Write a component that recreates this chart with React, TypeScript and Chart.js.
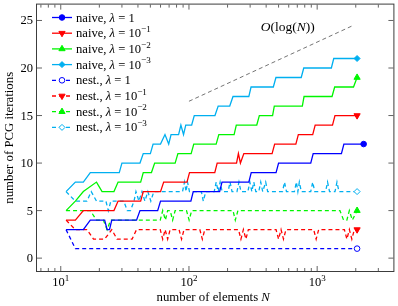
import { useEffect, useRef } from 'react';
import { Chart, registerables } from 'chart.js';

Chart.register(...registerables);

// ---------------- data ----------------
const naiveL1N = [11, 15, 17, 22, 23, 24, 25, 39, 41.5, 57, 60, 103.5, 108, 173.5, 181, 293, 306, 478, 500, 891, 931, 1546, 1616, 2304];
const naiveL1It = [3, 3, 4, 4, 3, 3, 4, 4, 5, 5, 6, 6, 7, 7, 8, 8, 9, 9, 10, 10, 11, 11, 12, 12];

const naiveL01N = [11, 13, 15, 26, 28, 42, 44, 60, 63.5, 96.5, 101, 159, 166, 235, 243, 252, 268, 445, 466, 682, 713, 923, 965, 1317, 1377, 2048];
const naiveL01It = [4, 4, 5, 5, 6, 6, 7, 7, 8, 8, 9, 9, 10, 10, 11, 10, 11, 11, 12, 12, 13, 13, 14, 14, 15, 15];

const naiveL001N = [11, 13, 15, 19, 21, 26, 28, 42, 44, 51, 54, 78, 82, 104, 109, 163, 171, 225, 234, 338, 354, 449, 463, 766, 790, 1306, 1370, 1921, 2048];
const naiveL001It = [5, 6, 7, 8, 7, 7, 8, 8, 9, 9, 10, 10, 11, 11, 12, 12, 13, 13, 14, 14, 15, 15, 16, 16, 17, 17, 18, 18, 19];

const naiveL0001N = [11, 13, 15, 17, 28.6, 30, 41.5, 44, 50, 52.5, 60, 65, 69.5, 72.5, 83, 86.5, 90.7, 94.4, 105, 110, 159.5, 169, 208, 220.6, 293, 305, 455, 477, 751, 786, 1290, 1347, 2048];
const naiveL0001It = [7, 8, 8, 9, 9, 10, 10, 11, 11, 12, 12, 13, 12, 13, 13, 14, 13, 14, 14, 15, 15, 16, 16, 17, 17, 18, 18, 19, 19, 20, 20, 21, 21];

const nestL1N = [11, 13, 2048];
const nestL1It = [3, 1, 1];

const nestL01N = [11, 13, 16, 18, 22, 25, 27.5, 36, 39, 59.7, 62.4, 65.2, 68.2, 71.3, 83.7, 87.5, 91.5, 121.6, 127.1, 132.9, 243.3, 254.3, 265.8, 278, 290.6, 478, 500, 522.6, 546, 571, 939, 982, 1027, 1631, 1705, 1783, 1864, 1949, 2048];
const nestL01It = [4, 3, 3, 2, 2, 3, 2, 2, 3, 3, 2, 3, 2, 3, 3, 2, 3, 3, 2, 3, 3, 2, 3, 2, 3, 3, 2, 3, 2, 3, 3, 2, 3, 3, 2, 3, 2, 3, 3];

const nestL001N = [11, 17, 19, 21.5, 23, 24.5, 59.7, 62.4, 65.5, 68.2, 71.3, 74.6, 78, 95.7, 100.3, 105, 220.6, 229.8, 241, 1505, 1607, 1705, 1782, 1880, 2048];
const nestL001It = [5, 5, 4, 4, 3, 4, 4, 5, 4, 5, 5, 4, 5, 5, 4, 5, 5, 4, 5, 5, 4, 4, 5, 4, 5];

const nestL0001N = [11, 13, 16, 17.3, 19, 22.5, 23.5, 24.6, 31, 33, 35, 37.3, 38.6, 40.7, 43, 45.3, 47.8, 50.4, 53.2, 89.1, 92.3, 94.9, 97.4, 100.9, 124.9, 129.4, 135.3, 157.4, 163.1, 169, 175.1, 181.4, 201.8, 209.2, 216.7, 236.9, 245.5, 254.3, 288.1, 298.5, 309.3, 320.5, 332.1, 350.3, 363, 376.1, 396.7, 411.1, 536.7, 556.2, 576.2, 664.4, 688.4, 707.1, 726.1, 752.4, 891, 923, 956.6, 1163, 1205, 1249, 1377, 1427, 1479, 2048];
const nestL0001It = [7, 6, 6, 7, 6, 6, 5, 6, 6, 5, 5, 6, 7, 6, 7, 6, 7, 6, 7, 7, 8, 7, 8, 7, 7, 6, 7, 7, 8, 7, 8, 7, 7, 8, 7, 7, 8, 7, 7, 8, 7, 8, 7, 7, 8, 7, 8, 7, 7, 8, 7, 7, 8, 7, 8, 7, 7, 8, 7, 7, 8, 7, 7, 8, 7, 7];

const refLineN = [100, 1925];
const refLineIt = [16.5, 24.5];
const refLabelN = 590;

const labels = [
  'naive, λ = 1', 'naive, λ = 10^-1', 'naive, λ = 10^-2', 'naive, λ = 10^-3',
  'nest., λ = 1', 'nest., λ = 10^-1', 'nest., λ = 10^-2', 'nest., λ = 10^-3',
];

const yTicks = [0, 5, 10, 15, 20, 25];
const xMajorTicks = [10, 100, 1000];
const xTickLabels = ['10^1', '10^2', '10^3'];
const xMinorTicks = [7, 8, 9, 20, 30, 40, 50, 60, 70, 80, 90, 200, 300, 400, 500, 600, 700, 800, 900, 2000, 3000];

// ---------------- styles ----------------
const BLUE = 'rgb(0,0,255)';
const RED = 'rgb(255,0,0)';
const GREEN = 'rgb(0,245,0)';
const CYAN = 'rgb(0,175,240)';
const FRAME = 'rgb(60,60,60)';
const SERIF = "'Liberation Serif', 'Times New Roman', serif";

type Style = { color: string; dashed: boolean; marker: string; rot: number; filled: boolean; r: number };
const styles: Style[] = [
  { color: BLUE, dashed: false, marker: 'circle', rot: 0, filled: true, r: 2.8 },
  { color: RED, dashed: false, marker: 'triangle', rot: 180, filled: true, r: 3.6 },
  { color: GREEN, dashed: false, marker: 'triangle', rot: 0, filled: true, r: 3.6 },
  { color: CYAN, dashed: false, marker: 'rectRot', rot: 0, filled: true, r: 3 },
  { color: BLUE, dashed: true, marker: 'circle', rot: 0, filled: false, r: 2.8 },
  { color: RED, dashed: true, marker: 'triangle', rot: 180, filled: true, r: 3.6 },
  { color: GREEN, dashed: true, marker: 'triangle', rot: 0, filled: true, r: 3.6 },
  { color: CYAN, dashed: true, marker: 'rectRot', rot: 0, filled: false, r: 3 },
];
const seriesN = [naiveL1N, naiveL01N, naiveL001N, naiveL0001N, nestL1N, nestL01N, nestL001N, nestL0001N];
const seriesIt = [naiveL1It, naiveL01It, naiveL001It, naiveL0001It, nestL1It, nestL01It, nestL001It, nestL0001It];

// ---------------- text helpers ----------------
type Part = { text: string; font: string; dy: number };

function parseRich(s: string, size: number): Part[] {
  const parts: Part[] = [];
  const reg = `${size}px ${SERIF}`;
  const ita = `italic ${size}px ${SERIF}`;
  const sup = `${(size * 0.72).toFixed(1)}px ${SERIF}`;
  let buf = '';
  const flush = () => {
    if (buf) { parts.push({ text: buf, font: reg, dy: 0 }); buf = ''; }
  };
  let i = 0;
  while (i < s.length) {
    const c = s[i];
    if (c === '^') {
      flush();
      let j = i + 1;
      let t = '';
      while (j < s.length && s[j] !== ' ') { t += s[j]; j++; }
      parts.push({ text: t.replace('-', '\u2212'), font: sup, dy: -size * 0.42 });
      i = j;
      continue;
    }
    if (c === 'λ' || c === 'N') {
      flush();
      parts.push({ text: c, font: ita, dy: 0 });
      i++;
      continue;
    }
    buf += c;
    i++;
  }
  flush();
  return parts;
}

function drawRich(ctx: CanvasRenderingContext2D, parts: Part[], x: number, y: number, align: 'left' | 'center' | 'right') {
  let w = 0;
  for (const p of parts) { ctx.font = p.font; w += ctx.measureText(p.text).width; }
  let cx = align === 'left' ? x : align === 'center' ? x - w / 2 : x - w;
  ctx.textAlign = 'left';
  ctx.textBaseline = 'alphabetic';
  for (const p of parts) {
    ctx.font = p.font;
    ctx.fillText(p.text, cx, y + p.dy);
    cx += ctx.measureText(p.text).width;
  }
}

function drawMarker(ctx: CanvasRenderingContext2D, st: Style, x: number, y: number) {
  ctx.save();
  ctx.setLineDash([]);
  ctx.lineWidth = 1;
  ctx.strokeStyle = st.color;
  ctx.fillStyle = st.filled ? st.color : '#ffffff';
  ctx.beginPath();
  const r = st.r;
  if (st.marker === 'circle') {
    ctx.arc(x, y, r, 0, Math.PI * 2);
  } else if (st.marker === 'triangle') {
    let a = (st.rot * Math.PI) / 180;
    ctx.moveTo(x + Math.sin(a) * r, y - Math.cos(a) * r);
    a += (2 * Math.PI) / 3;
    ctx.lineTo(x + Math.sin(a) * r, y - Math.cos(a) * r);
    a += (2 * Math.PI) / 3;
    ctx.lineTo(x + Math.sin(a) * r, y - Math.cos(a) * r);
  } else {
    ctx.moveTo(x, y - r);
    ctx.lineTo(x + r, y);
    ctx.lineTo(x, y + r);
    ctx.lineTo(x - r, y);
  }
  ctx.closePath();
  ctx.fill();
  ctx.stroke();
  ctx.restore();
}

const framePlugin = {
  id: 'pgfFrame',
  afterDraw(chart: any) {
    const { ctx, chartArea: a, scales } = chart;
    const xs = scales.x;
    const ys = scales.y;
    ctx.save();
    ctx.setLineDash([]);
    ctx.strokeStyle = FRAME;
    ctx.lineWidth = 1;
    ctx.strokeRect(a.left - 0.5, a.top - 0.5, a.right - a.left + 1, a.bottom - a.top + 1);

    ctx.lineWidth = 0.8;
    ctx.beginPath();
    for (const v of yTicks) {
      const py = ys.getPixelForValue(v);
      ctx.moveTo(a.left, py); ctx.lineTo(a.left + 5, py);
      ctx.moveTo(a.right, py); ctx.lineTo(a.right - 5, py);
    }
    for (const v of xMajorTicks) {
      const px = xs.getPixelForValue(v);
      ctx.moveTo(px, a.bottom); ctx.lineTo(px, a.bottom - 5);
      ctx.moveTo(px, a.top); ctx.lineTo(px, a.top + 5);
    }
    for (const v of xMinorTicks) {
      const px = xs.getPixelForValue(v);
      ctx.moveTo(px, a.bottom); ctx.lineTo(px, a.bottom - 3);
      ctx.moveTo(px, a.top); ctx.lineTo(px, a.top + 3);
    }
    ctx.stroke();

    ctx.fillStyle = '#000';
    for (const v of yTicks) {
      const py = ys.getPixelForValue(v);
      drawRich(ctx, parseRich(String(v), 12.5), a.left - 4, py + 4, 'right');
    }
    xMajorTicks.forEach((v, i) => {
      const px = xs.getPixelForValue(v);
      drawRich(ctx, parseRich(xTickLabels[i], 12.5), px, a.bottom + 15, 'center');
    });
    drawRich(ctx, parseRich('number of elements N', 12.8), (a.left + a.right) / 2 - 2, 301, 'center');
    ctx.save();
    ctx.translate(13, (a.top + a.bottom) / 2);
    ctx.rotate(-Math.PI / 2);
    drawRich(ctx, parseRich('number of PCG iterations', 12.8), 0, 0, 'center');
    ctx.restore();

    const parts: Part[] = [
      { text: 'O', font: `italic 13.5px ${SERIF}`, dy: 0 },
      { text: '(log(', font: `13.5px ${SERIF}`, dy: 0 },
      { text: 'N', font: `italic 13.5px ${SERIF}`, dy: 0 },
      { text: '))', font: `13.5px ${SERIF}`, dy: 0 },
    ];
    drawRich(ctx, parts, xs.getPixelForValue(refLabelN), 31, 'center');

    labels.forEach((lab, i) => {
      const st = styles[i];
      const cy = 17.5 + i * 15.7;
      ctx.save();
      ctx.strokeStyle = st.color;
      ctx.lineWidth = 1.3;
      ctx.setLineDash(st.dashed ? [4, 3] : []);
      ctx.beginPath();
      ctx.moveTo(52, cy);
      ctx.lineTo(72, cy);
      ctx.stroke();
      ctx.restore();
      drawMarker(ctx, st, 62, cy);
      ctx.fillStyle = '#000';
      drawRich(ctx, parseRich(lab, 12.6), 76, cy + 4, 'left');
    });
    ctx.restore();
  },
};

export default function App() {
  const ref = useRef<HTMLCanvasElement>(null);
  useEffect(() => {
    document.body.style.margin = '0';
    const canvas = ref.current!;
    const datasets: any[] = seriesN.map((ns, i) => {
      const st = styles[i];
      const its = seriesIt[i];
      const last = ns.length - 1;
      return {
        label: labels[i],
        data: ns.map((n, k) => ({ x: n, y: its[k] })),
        borderColor: st.color,
        backgroundColor: st.color,
        borderWidth: 1.3,
        borderDash: st.dashed ? [4, 3] : [],
        tension: 0,
        fill: false,
        pointStyle: st.marker,
        pointRotation: st.rot,
        pointRadius: (c: any) => (c.dataIndex === last ? st.r : 0),
        pointHoverRadius: 0,
        pointBackgroundColor: st.filled ? st.color : '#ffffff',
        pointBorderColor: st.color,
        pointBorderWidth: 1,
      };
    });
    datasets.push({
      label: 'O(log(N))',
      data: refLineN.map((n, k) => ({ x: n, y: refLineIt[k] })),
      borderColor: 'rgb(80,80,80)',
      borderWidth: 0.8,
      borderDash: [4, 3],
      pointRadius: 0,
      fill: false,
      tension: 0,
    });
    const chart = new Chart(canvas, {
      type: 'line',
      data: { datasets },
      options: {
        responsive: false,
        animation: false,
        devicePixelRatio: 1,
        layout: { padding: { left: 37, right: 1, top: 2, bottom: 35 } },
        scales: {
          x: { type: 'logarithmic', min: 6.527, max: 3932, display: false },
          y: { type: 'linear', min: -1.354, max: 26.67, display: false },
        },
        plugins: {
          legend: { display: false },
          tooltip: { enabled: false },
        },
        events: [],
      } as any,
      plugins: [framePlugin],
    });
    return () => chart.destroy();
  }, []);
  return (
    <canvas
      ref={ref}
      width={398}
      height={306}
      style={{ display: 'block', width: '398px', height: '306px' }}
    />
  );
}
